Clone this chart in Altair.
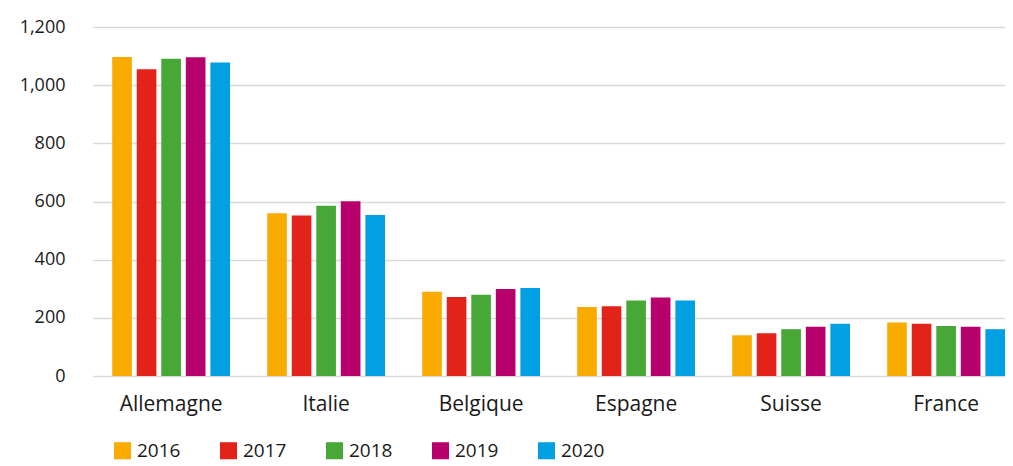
import altair as alt
import pandas as pd

countries = ["Allemagne", "Italie", "Belgique", "Espagne", "Suisse", "France"]
years = ["2016", "2017", "2018", "2019", "2020"]
v2016 = [1097, 560, 290, 237, 140, 184]
v2017 = [1055, 552, 272, 240, 147, 180]
v2018 = [1091, 585, 279, 260, 161, 172]
v2019 = [1096, 601, 299, 270, 169, 169]
v2020 = [1078, 554, 303, 260, 180, 161]
colors = ["#f9ab00", "#e2231a", "#47a737", "#b7006b", "#00a0e2"]

series = [v2016, v2017, v2018, v2019, v2020]
rows = []
for y, vals in zip(years, series):
    for c, v in zip(countries, vals):
        rows.append({"country": c, "year": y, "value": v})
df = pd.DataFrame(rows)

FONT = "Open Sans"
TXT = "#1a1a1a"

chart = alt.Chart(df).mark_bar().encode(
    x=alt.X("country:N", sort=countries, title=None,
            scale=alt.Scale(paddingInner=0.24, paddingOuter=0.062, align=1),
            axis=alt.Axis(labelAngle=0, ticks=False, domain=False, grid=False,
                          labelPadding=17, labelFontSize=21, labelFont=FONT,
                          labelColor=TXT)),
    xOffset=alt.XOffset("year:N", sort=years,
                        scale=alt.Scale(paddingInner=0.2, paddingOuter=0)),
    y=alt.Y("value:Q", title=None,
            scale=alt.Scale(domain=[0, 1200], nice=False),
            axis=alt.Axis(values=[0, 200, 400, 600, 800, 1000, 1200], format=",.0f",
                          ticks=False, domain=False, grid=True, gridColor="#d9d9d9",
                          gridWidth=1.6, labelPadding=28, labelFontSize=18,
                          labelFont=FONT, labelColor=TXT)),
    color=alt.Color("year:N", sort=years,
                    scale=alt.Scale(domain=years, range=colors),
                    legend=alt.Legend(title=None, orient="none", direction="horizontal",
                                      legendX=20, legendY=414, symbolType="square",
                                      symbolSize=290, symbolStrokeWidth=0,
                                      labelFontSize=19, labelFont=FONT, labelColor=TXT,
                                      labelOffset=5, columnPadding=38)),
).properties(
    width=912, height=349,
    autosize=alt.AutoSizeParams(type="none"),
    padding={"left": 85, "top": 19, "right": 0, "bottom": 90},
).configure_view(stroke=None)

chart.save("out.html", embed_options={"renderer": "svg", "actions": False})
